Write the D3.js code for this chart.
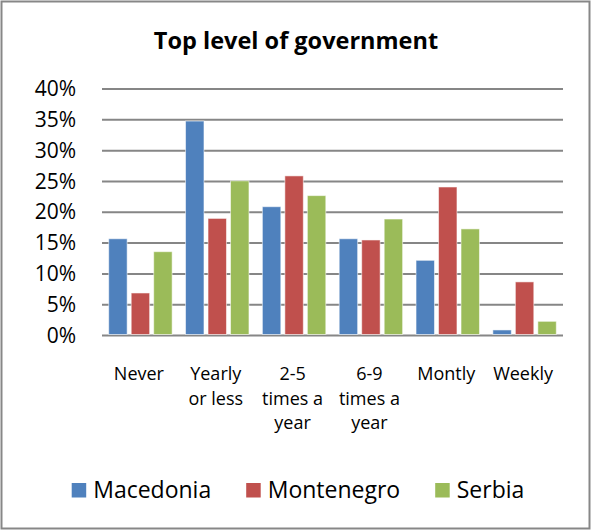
<!DOCTYPE html>
<html>
<head>
<meta charset="utf-8">
<script src="https://cdn.jsdelivr.net/npm/d3@7/dist/d3.min.js"></script>
<style>
  html, body { margin: 0; padding: 0; background: #fff; }
  svg { display: block; }
  text { font-family: "Open Sans", "Noto Sans", sans-serif; fill: #000; }
</style>
</head>
<body>
<script>
// Chart data
const title = "Top level of government";
const categories = ["Never", "Yearly\nor less", "2-5\ntimes a\nyear", "6-9\ntimes a\nyear", "Montly", "Weekly"];
const seriesNames = ["Macedonia", "Montenegro", "Serbia"];
const macedonia  = [15.7, 34.8, 20.9, 15.7, 12.2, 0.9];
const montenegro = [6.9, 19.0, 25.9, 15.5, 24.1, 8.7];
const serbia     = [13.6, 25.1, 22.7, 18.9, 17.3, 2.3];
const yTicks = [0, 5, 10, 15, 20, 25, 30, 35, 40];
const colors = ["#4F81BD", "#C0504D", "#9BBB59"];

const seriesValues = [macedonia, montenegro, serbia];

const W = 592, H = 531;
const plot = { left: 102, right: 563, top: 89, bottom: 335.5 };

const svg = d3.select("body").append("svg")
  .attr("width", W).attr("height", H);

// Outer frame
svg.append("rect")
  .attr("x", 1.5).attr("y", 1.5)
  .attr("width", W - 4).attr("height", H - 4)
  .attr("fill", "#fff")
  .attr("stroke", "#878787").attr("stroke-width", 2);

// Title
svg.append("text")
  .attr("x", 296).attr("y", 49)
  .attr("text-anchor", "middle")
  .style("font-weight", "bold")
  .style("font-size", "23.5px")
  .text(title);

const x0 = d3.scaleBand()
  .domain(d3.range(categories.length))
  .range([plot.left, plot.right])
  .paddingInner(0).paddingOuter(0);

const x1 = d3.scaleBand()
  .domain(d3.range(seriesNames.length))
  .range([6.7, x0.bandwidth() - 6.7])
  .paddingInner(0.18).paddingOuter(0);

const y = d3.scaleLinear()
  .domain([0, 40])
  .range([plot.bottom, plot.top]);

// Horizontal gridlines (including the 0% baseline)
svg.append("g")
  .selectAll("line")
  .data(yTicks)
  .join("line")
  .attr("x1", plot.left).attr("x2", plot.right)
  .attr("y1", d => y(d)).attr("y2", d => y(d))
  .attr("stroke", "#868686").attr("stroke-width", 2);

// Y axis labels
const yAxis = d3.axisLeft(y)
  .tickValues(yTicks)
  .tickFormat(d => d + "%")
  .tickSize(0)
  .tickPadding(26);

const yg = svg.append("g")
  .attr("transform", `translate(${plot.left},0)`)
  .call(yAxis);
yg.select(".domain").remove();
yg.selectAll("text")
  .style("font-family", "'Open Sans', sans-serif")
  .style("font-size", "21px")
  .attr("fill", "#000");

// Bars
const groups = svg.append("g")
  .selectAll("g")
  .data(categories.map((c, i) => i))
  .join("g")
  .attr("transform", i => `translate(${x0(i)},0)`);

groups.selectAll("rect")
  .data(i => seriesValues.map((vals, s) => ({ s, v: vals[i] })))
  .join("rect")
  .attr("x", d => x1(d.s))
  .attr("width", x1.bandwidth())
  .attr("y", d => y(d.v))
  .attr("height", d => y(0) - 1 - y(d.v))
  .attr("fill", d => colors[d.s])
  .attr("stroke", "rgba(255,255,255,0.55)")
  .attr("stroke-width", 1);

// Category labels (multi-line)
const lineGap = 24.5;
const catG = svg.append("g");
categories.forEach((c, i) => {
  const t = catG.append("text")
    .attr("text-anchor", "middle")
    .style("font-size", "18px");
  c.split("\n").forEach((ln, k) => {
    t.append("tspan")
      .attr("x", x0(i) + x0.bandwidth() / 2 - 1.5)
      .attr("y", 380 + k * lineGap)
      .text(ln);
  });
});

// Legend
const legend = svg.append("g");
const sq = 14.5, sqGap = 7, itemGap = 35;
const items = seriesNames.map((name, s) => {
  const g = legend.append("g");
  g.append("rect")
    .attr("width", sq).attr("height", sq)
    .attr("y", 483)
    .attr("fill", colors[s]);
  const tx = g.append("text")
    .attr("x", sq + sqGap).attr("y", 497.5)
    .style("font-size", "23px")
    .text(name);
  return { g, w: sq + sqGap + tx.node().getComputedTextLength() };
});
const total = d3.sum(items, d => d.w) + itemGap * (items.length - 1);
let cx = 298 - total / 2;
items.forEach(it => {
  it.g.attr("transform", `translate(${cx},0)`);
  cx += it.w + itemGap;
});
</script>
</body>
</html>
